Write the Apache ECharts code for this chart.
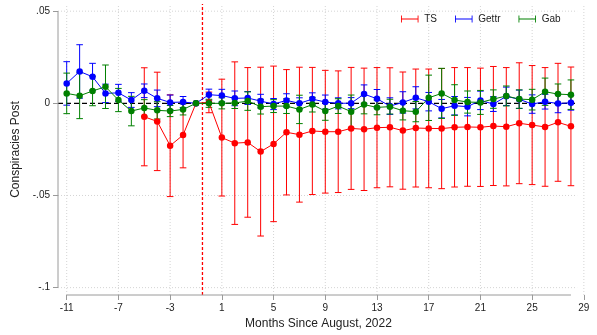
<!DOCTYPE html>
<html>
<head>
<meta charset="utf-8">
<script src="https://cdn.jsdelivr.net/npm/echarts@6/dist/echarts.min.js"></script>
<style>
  html, body { margin: 0; padding: 0; background: #fff; }
  #chart { width: 597px; height: 335px; }
</style>
</head>
<body>
<div id="chart"></div>
<script>
// Months relative to August 2022
const months = [-11, -10, -9, -8, -7, -6, -5, -4, -3, -2, -1, 0, 1, 2, 3, 4, 5, 6, 7, 8, 9,
  10, 11, 12, 13, 14, 15, 16, 17, 18, 19, 20, 21, 22, 23, 24, 25, 26, 27, 28];

// Point estimates (null = not estimated for that month)
const tsEst = [null, null, null, null, null, null, -0.0073, -0.0098, -0.0230, -0.0172, 0,
  0.0005, -0.0186, -0.0216, -0.0212, -0.0262, -0.0220, -0.0157, -0.0170, -0.0150, -0.0154,
  -0.0154, -0.0136, -0.0141, -0.0132, -0.0130, -0.0148, -0.0134, -0.0136, -0.0137, -0.0130,
  -0.0128, -0.0130, -0.0123, -0.0127, -0.0108, -0.0118, -0.0128, -0.0103, -0.0125];
const gettrEst = [0.0108, 0.0173, 0.0144, 0.0054, 0.0057, 0.0018, 0.0068, 0.0027, 0.0005, 0.0007, 0,
  0.0047, 0.0042, 0.0027, 0.0029, 0.0012, -0.0004, 0.0016, 0.0000, 0.0023, 0.0007,
  0.0000, 0.0001, 0.0050, 0.0025, -0.0015, 0.0005, 0.0030, 0.0009, -0.0029, -0.0013,
  -0.0018, 0.0016, -0.0004, 0.0038, 0.0022, -0.0004, 0.0009, -0.0001, 0.0003];
const gabEst = [0.0054, 0.0041, 0.0067, 0.0090, 0.0018, -0.0042, -0.0025, -0.0038, -0.0042, -0.0033, 0,
  0.0000, 0.0000, 0.0002, 0.0012, -0.0018, -0.0015, -0.0015, -0.0033, -0.0007, -0.0042,
  -0.0015, -0.0045, -0.0007, -0.0022, -0.0018, -0.0040, -0.0045, 0.0030, 0.0054, 0.0018,
  0.0007, 0.0005, 0.0023, 0.0040, 0.0023, 0.0020, 0.0063, 0.0050, 0.0047];

// Half-widths of the 95% confidence intervals
const tsCi = [null, null, null, null, null, null, 0.0266, 0.0267, 0.0276, 0.0178, 0,
  0.0056, 0.0317, 0.0441, 0.0406, 0.0458, 0.0422, 0.0340, 0.0366, 0.0345, 0.0333,
  0.0330, 0.0331, 0.0332, 0.0326, 0.0323, 0.0318, 0.0320, 0.0322, 0.0326, 0.0324,
  0.0322, 0.0321, 0.0323, 0.0321, 0.0328, 0.0323, 0.0322, 0.0320, 0.0322];
const gettrCi = [0.0118, 0.0145, 0.0073, 0.0050, 0.0046, 0.0040, 0.0037, 0.0045, 0.0040, 0.0030, 0,
  0.0030, 0.0034, 0.0040, 0.0035, 0.0037, 0.0030, 0.0036, 0.0030, 0.0034, 0.0038,
  0.0030, 0.0030, 0.0050, 0.0050, 0.0045, 0.0058, 0.0060, 0.0050, 0.0050, 0.0050,
  0.0050, 0.0050, 0.0040, 0.0050, 0.0050, 0.0050, 0.0040, 0.0050, 0.0040];
const gabCi = [0.0110, 0.0124, 0.0080, 0.0118, 0.0063, 0.0080, 0.0045, 0.0047, 0.0030, 0.0030, 0,
  0.0022, 0.0030, 0.0030, 0.0050, 0.0040, 0.0035, 0.0040, 0.0077, 0.0040, 0.0050,
  0.0040, 0.0090, 0.0050, 0.0040, 0.0040, 0.0050, 0.0055, 0.0123, 0.0136, 0.0083,
  0.0060, 0.0065, 0.0050, 0.0054, 0.0050, 0.0056, 0.0074, 0.0055, 0.0080];

const xTicks = [-11, -7, -3, 1, 5, 9, 13, 17, 21, 25, 29];
const yTicks = [-0.1, -0.05, 0, 0.05];
const yGrid = [0.05, -0.05, -0.1];
const eventMonth = -0.5;

const seriesDefs = [
  { name: 'TS', color: '#ff0000', est: tsEst, ci: tsCi },
  { name: 'Gettr', color: '#0000ff', est: gettrEst, ci: gettrCi },
  { name: 'Gab', color: '#008000', est: gabEst, ci: gabCi }
];

// axis extents (plot region slightly wider than the labelled range)
const xMin = -11.673, xMax = 29.32;
const yMin = -0.104, yMax = 0.0539;
const gridLineEnd = 28.48;

const FONT = '"Liberation Sans", Arial, Helvetica, sans-serif';

function line(p1, p2, style) {
  return { type: 'line', shape: { x1: p1[0], y1: p1[1], x2: p2[0], y2: p2[1] }, style: style };
}

// Background frame: gridlines, reference lines and axis lines
function renderFrame(params, api) {
  const kids = [];
  const dot = { stroke: '#d4d4d4', lineWidth: 1, lineDash: [1, 2] };
  xTicks.forEach(function (t) {
    kids.push(line(api.coord([t, yMin]), api.coord([t, yMax]), dot));
  });
  yGrid.forEach(function (v) {
    kids.push(line(api.coord([xMin, v]), api.coord([gridLineEnd, v]), dot));
  });
  kids.push(line(api.coord([xMin, 0]), api.coord([gridLineEnd, 0]),
    { stroke: '#000', lineWidth: 1.2, lineDash: [5, 3] }));
  kids.push(line(api.coord([eventMonth, yMin]), api.coord([eventMonth, yMax]),
    { stroke: '#ff0000', lineWidth: 1.3, lineDash: [3, 2] }));
  const axisStyle = { stroke: '#9a9a9a', lineWidth: 1 };
  kids.push(line(api.coord([xMin, yTicks[0]]), api.coord([xMin, yTicks[yTicks.length - 1]]), axisStyle));
  kids.push(line(api.coord([months[0], yMin]), api.coord([months[months.length - 1], yMin]), axisStyle));
  return { type: 'group', children: kids };
}

function errorRenderer(color) {
  return function (params, api) {
    const x = api.value(0), lo = api.value(1), hi = api.value(2);
    if (!(hi > lo)) return null;
    const top = api.coord([x, hi]);
    const bot = api.coord([x, lo]);
    const w = 3.3;
    const st = { stroke: color, lineWidth: 1 };
    return {
      type: 'group',
      children: [
        line(top, bot, st),
        line([top[0] - w, top[1]], [top[0] + w, top[1]], st),
        line([bot[0] - w, bot[1]], [bot[0] + w, bot[1]], st)
      ]
    };
  };
}

const series = [{
  type: 'custom',
  name: 'frame',
  silent: true,
  z: 1,
  label: { show: false },
  data: [[0, 0]],
  renderItem: renderFrame
}];

seriesDefs.forEach(function (d) {
  const bars = [], pts = [];
  months.forEach(function (m, i) {
    if (d.est[i] === null) return;
    pts.push([m, d.est[i]]);
    bars.push([m, d.est[i] - d.ci[i], d.est[i] + d.ci[i]]);
  });
  series.push({
    type: 'custom',
    name: d.name + ' CI',
    z: 2,
    data: bars,
    renderItem: errorRenderer(d.color)
  });
  series.push({
    type: 'line',
    name: d.name,
    z: 2,
    data: pts,
    symbol: 'circle',
    symbolSize: 6.5,
    showSymbol: true,
    color: d.color,
    itemStyle: { color: d.color },
    lineStyle: { color: d.color, width: 1 }
  });
});

const chart = echarts.init(document.getElementById('chart'), null, { renderer: 'canvas' });
chart.setOption({
  animation: false,
  backgroundColor: '#ffffff',
  textStyle: { fontFamily: FONT },
  grid: { left: 58, right: 9, top: 4, bottom: 40, containLabel: false },
  legend: {
    data: seriesDefs.map(function (d) { return d.name; }),
    left: 401,
    top: 14,
    padding: 0,
    itemGap: 18,
    itemWidth: 19,
    itemHeight: 7,
    icon: 'path://M0,0h1v8h-1z M0,3.5h20v1h-20z M19,0h1v8h-1z',
    itemStyle: { borderWidth: 0 },
    textStyle: { fontFamily: FONT, fontSize: 10, color: '#222' }
  },
  xAxis: {
    type: 'value',
    min: xMin,
    max: xMax,
    axisLine: { show: false, onZero: false },
    splitLine: { show: false },
    axisTick: { show: true, length: 5, customValues: xTicks, lineStyle: { color: '#9a9a9a' } },
    axisLabel: { customValues: xTicks, margin: 8, fontSize: 10, color: '#222', fontFamily: FONT },
    name: 'Months Since August, 2022',
    nameLocation: 'middle',
    nameGap: 22,
    nameTextStyle: { fontSize: 12, color: '#222', fontFamily: FONT, padding: [0, 9, 0, 0] }
  },
  yAxis: {
    type: 'value',
    min: yMin,
    max: yMax,
    axisLine: { show: false, onZero: false },
    splitLine: { show: false },
    axisTick: { show: true, length: 5, customValues: yTicks, lineStyle: { color: '#9a9a9a' } },
    axisLabel: {
      customValues: yTicks,
      margin: 8,
      fontSize: 10,
      color: '#222',
      fontFamily: FONT,
      formatter: function (v) {
        if (Math.abs(v) < 1e-9) return '0';
        return String(Math.round(v * 1000) / 1000).replace('0.', '.');
      }
    },
    name: 'Conspiracies Post',
    nameLocation: 'middle',
    nameGap: 33,
    nameTextStyle: { fontSize: 12, color: '#222', fontFamily: FONT }
  },
  series: series
});
</script>
</body>
</html>
